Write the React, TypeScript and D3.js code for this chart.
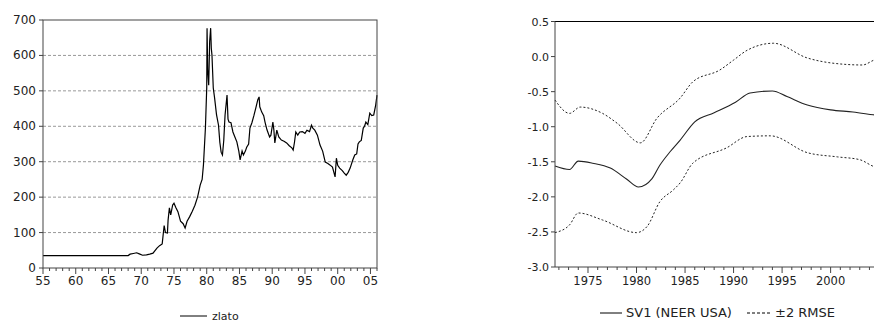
import React from 'react';
import * as d3 from 'd3';

// gold price (zlato), USD / oz
const goldYears = [
  1955.0, 1968.0, 1968.3, 1968.8, 1969.3, 1969.7, 1970.2, 1970.8, 1971.3, 1971.8,
  1972.4, 1972.8, 1973.2, 1973.5, 1973.7, 1974.0, 1974.1, 1974.3, 1974.5, 1974.8,
  1975.0, 1975.3, 1975.6, 1976.0, 1976.4, 1976.7, 1977.0, 1977.4, 1977.8, 1978.2,
  1978.6, 1979.0, 1979.3, 1979.5, 1979.8, 1980.0, 1980.05, 1980.15, 1980.3, 1980.45,
  1980.6, 1980.7, 1980.8, 1981.0, 1981.2, 1981.5, 1981.8, 1982.0, 1982.2, 1982.4,
  1982.6, 1982.8, 1983.1, 1983.25, 1983.4, 1983.7, 1984.0, 1984.3, 1984.6, 1984.9,
  1985.1, 1985.4, 1985.6, 1985.9, 1986.1, 1986.4, 1986.6, 1986.9, 1987.2, 1987.5,
  1987.8, 1988.0, 1988.1, 1988.4, 1988.7, 1988.9, 1989.2, 1989.6, 1989.8, 1990.1,
  1990.25, 1990.4, 1990.7, 1991.0, 1991.4, 1991.8, 1992.2, 1992.6, 1993.0, 1993.2,
  1993.4, 1993.6, 1993.9, 1994.2, 1994.6, 1995.0, 1995.3, 1995.7, 1996.0, 1996.2,
  1996.5, 1996.9, 1997.3, 1997.7, 1998.1, 1998.5, 1998.8, 1999.2, 1999.6, 1999.8,
  2000.0, 2000.3, 2000.7, 2001.0, 2001.3, 2001.6, 2001.9, 2002.3, 2002.6, 2002.9,
  2003.1, 2003.3, 2003.6, 2003.9, 2004.1, 2004.3, 2004.6, 2004.9, 2005.2, 2005.5,
  2005.8, 2006.0,
];
const goldValues = [
  35, 35, 39, 41, 43, 40, 36, 37, 39, 42,
  56, 63, 68, 120, 100, 99, 135, 170, 150, 178,
  183, 170, 159, 132, 125, 113, 132, 145, 160, 177,
  200, 234, 250, 291, 395, 508, 677, 560, 516, 640,
  677, 620, 601, 508, 480, 432, 403, 355, 327, 319,
  360, 432, 488, 420, 412, 410, 384, 370, 356, 330,
  305, 330, 319, 330, 341, 350, 395, 410, 430, 452,
  475, 483, 455, 440, 430, 412, 390, 370, 375, 412,
  390, 353, 389, 370, 361, 358, 353, 345, 339, 333,
  355, 384, 375, 384, 385, 380, 389, 385, 403, 395,
  389, 375, 347, 330, 299, 295, 291, 285, 257, 310,
  290, 282, 275, 268, 262, 270, 282, 305, 319, 322,
  350, 356, 360, 395, 400, 412, 405, 437, 430, 432,
  460, 488,
];
const goldTicks = [0, 100, 200, 300, 400, 500, 600, 700];
const goldGrid = [100, 200, 300, 400, 500, 600];
const goldYearLabels = [1955, 1960, 1965, 1970, 1975, 1980, 1985, 1990, 1995, 2000, 2005];

// SV1 (NEER USA) with +-2 RMSE band
const svYears = [1971.6, 1973.1, 1974.0, 1975.5, 1977.3, 1979.0, 1980.2, 1981.6, 1982.4, 1983.5, 1984.5, 1986.0, 1988.0, 1990.2, 1991.7, 1994.0, 1995.5, 1997.6, 2000.0, 2002.3, 2004.4, 2005.5];
const svValues = [-1.56, -1.61, -1.49, -1.52, -1.59, -1.75, -1.86, -1.74, -1.55, -1.35, -1.19, -0.93, -0.8, -0.65, -0.52, -0.49, -0.57, -0.69, -0.76, -0.79, -0.83, -0.85];
const upYears = [1971.6, 1973.1, 1974.2, 1976.5, 1978.0, 1980.4, 1982.1, 1984.5, 1985.8, 1988.6, 1990.0, 1991.4, 1994.1, 1997.6, 2000.0, 2003.3, 2004.5, 2005.5];
const upValues = [-0.62, -0.81, -0.72, -0.81, -0.95, -1.23, -0.88, -0.59, -0.36, -0.19, -0.05, 0.09, 0.19, -0.02, -0.09, -0.12, -0.05, -0.03];
const loYears = [1971.6, 1973.1, 1974.0, 1976.5, 1980.0, 1981.1, 1982.4, 1983.8, 1984.5, 1985.8, 1989.3, 1991.4, 1993.8, 1997.6, 2000.7, 2003.0, 2004.5, 2005.5];
const loValues = [-2.51, -2.4, -2.23, -2.33, -2.51, -2.42, -2.07, -1.9, -1.8, -1.52, -1.3, -1.14, -1.13, -1.37, -1.43, -1.47, -1.57, -1.6];
const svTicks = [0.5, 0, -0.5, -1, -1.5, -2, -2.5, -3];
const svYearLabels = [1975, 1980, 1985, 1990, 1995, 2000];

const FONT = 'DejaVu Sans, Verdana, sans-serif';
const INK = '#222';

function GoldChart() {
  const x = d3.scaleLinear().domain([1955, 2006]).range([43, 377]);
  const y = d3.scaleLinear().domain([0, 700]).range([268, 20]);
  const pts = goldYears.map((yr, i) => [yr, goldValues[i]] as [number, number]);
  const line = d3.line<[number, number]>().x(d => x(d[0])).y(d => y(d[1]));
  const minor = d3.range(1955, 2007);

  return (
    <g fontFamily={FONT} fill={INK}>
      {goldGrid.map(v => (
        <line key={v} x1={43} x2={377} y1={y(v)} y2={y(v)} stroke="#999" strokeDasharray="3,2" />
      ))}
      <path d={line(pts) || ''} fill="none" stroke="#000" strokeWidth={1.2} />
      <rect x={43} y={20} width={334} height={248} fill="none" stroke="#444" strokeWidth={1} />
      {goldTicks.map(v => (
        <g key={v}>
          <line x1={39} x2={43} y1={y(v)} y2={y(v)} stroke="#444" />
          <text x={36} y={y(v) + 4} textAnchor="end" fontSize={12}>{v}</text>
        </g>
      ))}
      {minor.map(yr => (
        <line key={yr} x1={x(yr)} x2={x(yr)} y1={268} y2={yr % 5 === 0 ? 274 : 271} stroke="#444" />
      ))}
      {goldYearLabels.map(yr => (
        <text key={yr} x={x(yr)} y={285} textAnchor="middle" fontSize={12}>
          {String(yr % 100).padStart(2, '0')}
        </text>
      ))}
      <line x1={180} x2={207} y1={316} y2={316} stroke="#000" />
      <text x={212} y={320} fontSize={11}>zlato</text>
    </g>
  );
}

function SvChart() {
  const x = d3.scaleLinear().domain([1971.6, 2005.5]).range([555, 884]);
  const y = d3.scaleLinear().domain([-3, 0.5]).range([267, 21.5]);
  const line = d3.line<[number, number]>()
    .x(d => x(d[0]))
    .y(d => y(d[1]))
    .curve(d3.curveMonotoneX);
  const sv = svYears.map((yr, i) => [yr, svValues[i]] as [number, number]);
  const up = upYears.map((yr, i) => [yr, upValues[i]] as [number, number]);
  const lo = loYears.map((yr, i) => [yr, loValues[i]] as [number, number]);
  const minor = d3.range(1972, 2006);

  return (
    <g fontFamily={FONT} fill={INK}>
      <path d={line(up) || ''} fill="none" stroke="#222" strokeDasharray="2,2" />
      <path d={line(lo) || ''} fill="none" stroke="#222" strokeDasharray="2,2" />
      <path d={line(sv) || ''} fill="none" stroke="#222" strokeWidth={1.1} />
      <line x1={555} x2={884} y1={21.5} y2={21.5} stroke="#000" />
      <line x1={555} x2={555} y1={21.5} y2={267} stroke="#444" />
      <line x1={555} x2={884} y1={267} y2={267} stroke="#444" />
      {svTicks.map(v => (
        <g key={v}>
          <line x1={551} x2={555} y1={y(v)} y2={y(v)} stroke="#444" />
          <text x={549} y={y(v) + 4} textAnchor="end" fontSize={11}>{d3.format('.1f')(v).replace('−', '-')}</text>
        </g>
      ))}
      {minor.map(yr => (
        <line key={yr} x1={x(yr)} x2={x(yr)} y1={267} y2={yr % 5 === 0 ? 273 : 270} stroke="#444" />
      ))}
      {svYearLabels.map(yr => (
        <text key={yr} x={x(yr)} y={285} textAnchor="middle" fontSize={11.5}>{yr}</text>
      ))}
      <line x1={600} x2={622} y1={313} y2={313} stroke="#000" />
      <text x={626} y={317} fontSize={13}>SV1 (NEER USA)</text>
      <line x1={747} x2={770} y1={313} y2={313} stroke="#000" strokeDasharray="3,2" />
      <text x={775} y={317} fontSize={13}>±2 RMSE</text>
    </g>
  );
}

export default function App() {
  return (
    <svg
      width={874}
      height={325}
      style={{ position: 'absolute', left: 0, top: 0, background: '#fff' }}
    >
      <GoldChart />
      <SvChart />
    </svg>
  );
}
